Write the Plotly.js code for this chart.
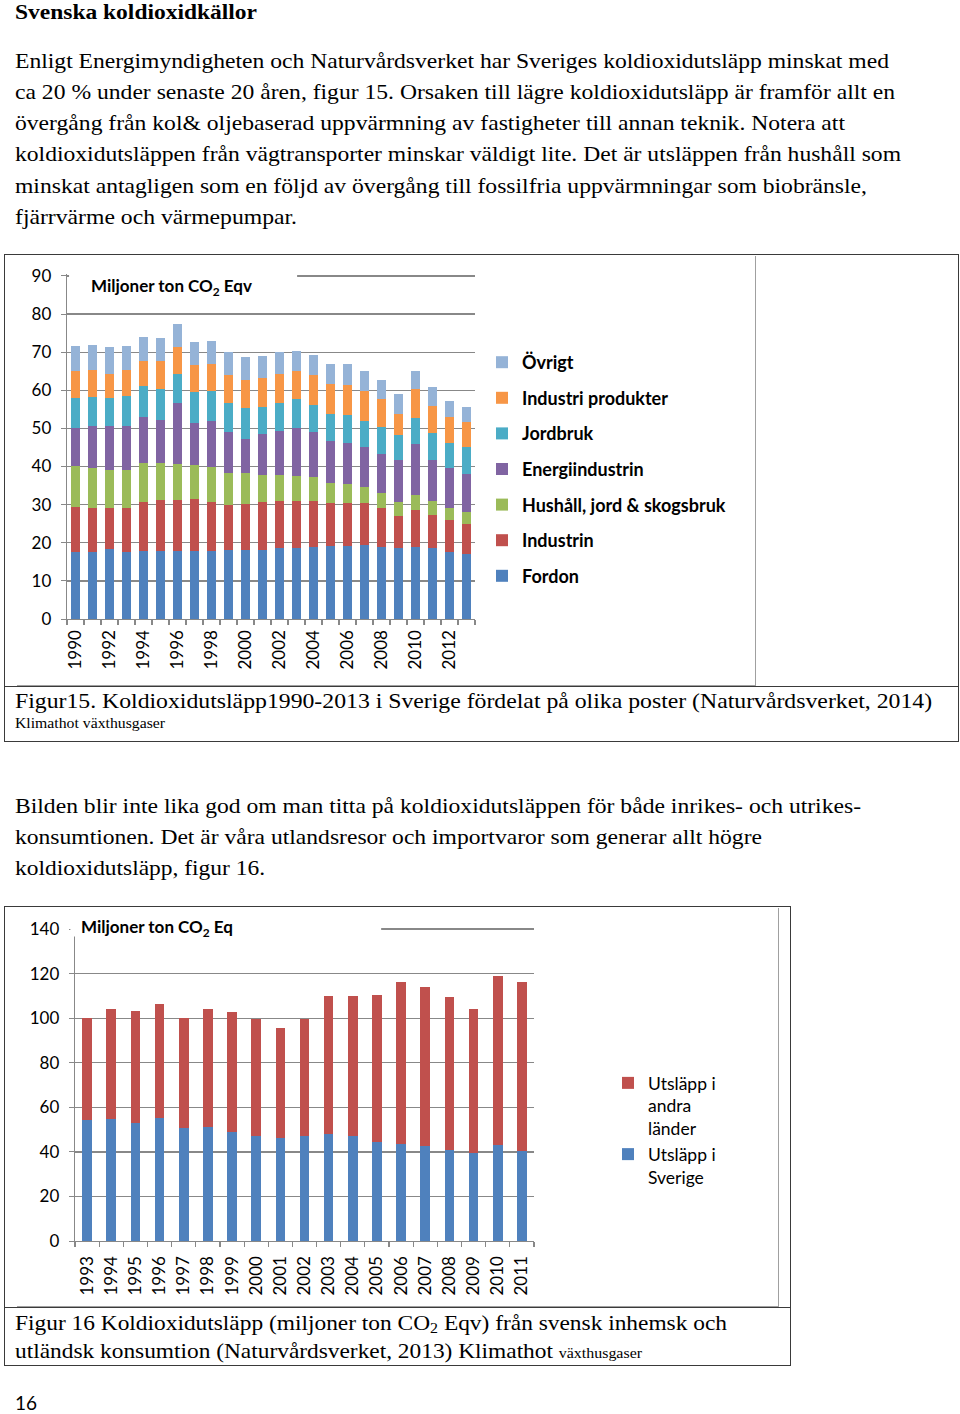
<!DOCTYPE html>
<html><head><meta charset="utf-8">
<script src="https://cdn.plot.ly/plotly-3.0.1.min.js"></script>
<style>
html,body{margin:0;padding:0;background:#fff;}
#page{position:relative;width:960px;height:1414px;overflow:hidden;background:#fff;}
.t{position:absolute;left:15px;white-space:nowrap;font-family:"Liberation Serif","Times New Roman",serif;color:#000;transform-origin:0 50%;}
.box{position:absolute;box-sizing:border-box;}
.plot{position:absolute;}
</style></head><body>
<div id="page">
<div class="t" style="top:1px;font-size:22px;line-height:22px;font-weight:bold" data-w="242">Svenska koldioxidkällor</div>
<div class="t" style="top:48px;font-size:22px;line-height:26px" data-w="874">Enligt Energimyndigheten och Naturvårdsverket har Sveriges koldioxidutsläpp minskat med</div>
<div class="t" style="top:79px;font-size:22px;line-height:26px" data-w="880">ca 20 % under senaste 20 åren, figur 15. Orsaken till lägre koldioxidutsläpp är framför allt en</div>
<div class="t" style="top:110px;font-size:22px;line-height:26px" data-w="830">övergång från kol&amp; oljebaserad uppvärmning av fastigheter till annan teknik. Notera att</div>
<div class="t" style="top:141px;font-size:22px;line-height:26px" data-w="886">koldioxidutsläppen från vägtransporter minskar väldigt lite. Det är utsläppen från hushåll som</div>
<div class="t" style="top:173px;font-size:22px;line-height:26px" data-w="852">minskat antagligen som en följd av övergång till fossilfria uppvärmningar som biobränsle,</div>
<div class="t" style="top:204px;font-size:22px;line-height:26px" data-w="282">fjärrvärme och värmepumpar.</div>

<div class="box" style="left:4px;top:254px;width:955px;height:488px;border:1.5px solid #3a3a3a"></div>
<div class="box" style="left:4px;top:686px;width:955px;height:0;border-top:1.5px solid #3a3a3a"></div>
<div class="box" style="left:17px;top:256px;width:739px;height:430px;border:1.5px solid #a0a0a0"></div>
<div id="c1" class="plot" style="left:17px;top:256px;width:738px;height:429px"></div>
<div class="t" style="top:689px;font-size:21px;line-height:24px" data-w="917">Figur15. Koldioxidutsläpp1990-2013 i Sverige fördelat på olika poster (Naturvårdsverket, 2014)</div>
<div class="t" style="top:714px;font-size:15px;line-height:18px" data-w="150">Klimathot växthusgaser</div>

<div class="t" style="top:793px;font-size:22px;line-height:26px" data-w="846">Bilden blir inte lika god om man titta på koldioxidutsläppen för både inrikes- och utrikes-</div>
<div class="t" style="top:824px;font-size:22px;line-height:26px" data-w="747">konsumtionen. Det är våra utlandsresor och importvaror som generar allt högre</div>
<div class="t" style="top:855px;font-size:22px;line-height:26px" data-w="250">koldioxidutsläpp, figur 16.</div>

<div class="box" style="left:4px;top:906px;width:787px;height:460px;border:1.5px solid #3a3a3a"></div>
<div class="box" style="left:4px;top:1307px;width:787px;height:0;border-top:1.5px solid #3a3a3a"></div>
<div class="box" style="left:17px;top:908px;width:762px;height:399px;border:1.5px solid #a0a0a0"></div>
<div id="c2" class="plot" style="left:17px;top:908px;width:761px;height:398px"></div>
<div class="t" style="top:1310px;font-size:22px;line-height:26px" data-w="712">Figur 16 Koldioxidutsläpp (miljoner ton CO<sub style="font-size:15px;vertical-align:-3px">2</sub> Eqv) från svensk inhemsk och</div>
<div class="t" style="top:1338px;font-size:22px;line-height:26px" data-w="627">utländsk konsumtion (Naturvårdsverket, 2013) Klimathot <span style="font-size:15px">växthusgaser</span></div>

<div style="position:absolute;left:15px;top:1393px;font-family:Lato,'Open Sans',sans-serif;font-size:19px;line-height:19px;color:#000">16</div>
</div>
<script>
// ---- Figur 15 data (miljoner ton CO2 eqv) ----
const years15 = [1990,1991,1992,1993,1994,1995,1996,1997,1998,1999,2000,2001,2002,2003,2004,2005,2006,2007,2008,2009,2010,2011,2012,2013];
const labels15 = ["1990","1992","1994","1996","1998","2000","2002","2004","2006","2008","2010","2012"];
const fordon = [17.6,17.6,18.4,17.6,17.9,17.9,17.8,17.8,17.8,18.2,18.1,18.2,18.6,18.7,19.0,19.2,19.2,19.5,18.9,18.6,18.8,18.5,17.6,17.1];
const industrin = [11.7,11.5,10.6,11.6,12.9,13.3,13.3,13.6,13.0,11.8,12.1,12.4,12.3,12.2,11.9,11.3,11.2,10.8,10.2,8.3,9.7,8.9,8.3,7.9];
const hushall = [10.8,10.5,10.2,10.0,10.0,9.6,9.6,8.9,9.0,8.4,8.2,7.3,7.0,6.6,6.4,5.3,4.9,4.3,4.0,3.8,4.0,3.5,3.1,3.2];
const energi = [9.9,11.0,11.4,11.5,12.3,11.5,15.9,11.1,12.1,10.6,8.9,10.7,11.4,12.6,11.8,10.9,10.9,10.5,10.3,10.9,13.3,10.9,10.5,9.9];
const jordbruk = [7.9,7.6,7.5,7.9,7.9,8.1,7.7,8.1,7.8,7.7,8.1,7.1,7.4,7.5,7.0,7.1,7.2,6.8,6.9,6.6,6.8,7.0,6.8,7.0];
const industriProdukter = [7.1,7.0,6.2,6.6,6.8,7.2,7.0,7.0,7.1,7.2,7.4,7.6,7.6,7.4,7.9,7.9,7.9,7.9,7.4,5.6,7.8,7.2,6.7,6.6];
const ovrigt = [6.7,6.7,7.0,6.4,6.2,6.2,6.0,6.1,6.0,6.1,5.8,5.6,5.7,5.4,5.3,5.1,5.5,5.2,5.1,5.1,4.6,4.8,4.3,3.9];
const series15Names = ["Fordon","Industrin","Hushåll, jord & skogsbruk","Energiindustrin","Jordbruk","Industri produkter","Övrigt"];
const series15Colors = ["#4F81BD","#C0504D","#9BBB59","#8064A2","#4BACC6","#F79646","#95B3D7"];

// ---- Figur 16 data ----
const years16 = [1993,1994,1995,1996,1997,1998,1999,2000,2001,2002,2003,2004,2005,2006,2007,2008,2009,2010,2011];
const utslappSverige = [54.2,54.6,53.0,55.4,50.7,51.3,49.1,47.0,46.3,47.0,48.1,47.0,44.5,43.4,42.7,40.9,39.4,43.0,40.3];
const utslappAndra = [45.8,49.6,50.1,50.9,49.2,52.6,53.6,52.6,49.2,52.6,61.8,62.9,65.9,72.9,71.3,68.7,64.5,76.0,76.1];

const GRID = "#888888";
const TF = "Lato, 'Open Sans', sans-serif";

document.querySelectorAll('.t[data-w]').forEach(el => {
  const w = el.getBoundingClientRect().width;
  const target = +el.dataset.w;
  if (w > 0) el.style.transform = 'scaleX(' + (target / w).toFixed(4) + ')';
});

const data15 = [fordon, industrin, hushall, energi, jordbruk, industriProdukter, ovrigt].map((vals, i) => ({
  type: 'bar', x: years15, y: vals, name: series15Names[i],
  marker: {color: series15Colors[i], line: {width: 0}}, width: 0.56,
  legendgroup: 'g' + i, legendrank: 1000 - i * 10, hoverinfo: 'skip'
}));
const bounds15 = years15.map(y => y - 0.5).concat([years15[years15.length - 1] + 0.5]);

Plotly.newPlot('c1', data15, {
  width: 738, height: 429,
  margin: {l: 50, r: 280, t: 18, b: 66},
  paper_bgcolor: '#fff', plot_bgcolor: '#fff',
  barmode: 'stack', bargap: 0,
  showlegend: true,
  legend: {x: 465/738, xref: 'container', xanchor: 'left', y: 1 - 88/429, yref: 'container', yanchor: 'top',
    traceorder: 'grouped', tracegroupgap: 9.2, maxheight: 420,
    font: {family: TF, size: 18, color: '#000', weight: 'bold'}, bgcolor: 'rgba(0,0,0,0)'},
  xaxis: {range: [1989.5, 2013.5], tickmode: 'array', tickvals: labels15.map(Number), ticktext: labels15, tickangle: -90,
    ticks: '', showgrid: false, zeroline: false, showline: true, linecolor: GRID, linewidth: 1.3,
    tickfont: {family: TF, size: 17, color: '#000'}, ticklabelstandoff: 3,
    minor: {tickmode: 'array', tickvals: bounds15, ticks: 'outside', ticklen: 5, tickcolor: GRID, tickwidth: 1.2, showgrid: false}},
  yaxis: {range: [0, 90.5], tickmode: 'linear', tick0: 0, dtick: 10, showgrid: true, gridcolor: GRID, gridwidth: 1.3,
    zeroline: false, showline: true, linecolor: GRID, linewidth: 1.3, ticks: 'outside', ticklen: 5, tickcolor: GRID,
    tickfont: {family: TF, size: 17, color: '#000'}, ticklabelstandoff: 6},
  shapes: [{type: 'rect', xref: 'paper', yref: 'paper', x0: 0.005, x1: 0.564, y0: 0.93, y1: 1.02, fillcolor: '#fff', line: {width: 0}, layer: 'above'}],
  annotations: [{xref: 'paper', yref: 'paper', x: 0.054, y: 0.962, xanchor: 'left', yanchor: 'middle', showarrow: false,
    text: 'Miljoner ton CO<sub>2</sub> Eqv', font: {family: TF, size: 17, color: '#000', weight: 'bold'}}]
}, {staticPlot: true, displayModeBar: false});

const bounds16 = years16.map(y => y - 0.5).concat([years16[years16.length - 1] + 0.5]);
Plotly.newPlot('c2', [
  {type: 'bar', x: years16, y: utslappSverige, name: 'Utsläpp i<br>Sverige', marker: {color: '#4F81BD'}, width: 0.4, hoverinfo: 'skip'},
  {type: 'bar', x: years16, y: utslappAndra, name: 'Utsläpp i<br>andra<br>länder', marker: {color: '#C0504D'}, width: 0.4, hoverinfo: 'skip'}
], {
  width: 761, height: 398,
  margin: {l: 58, r: 244, t: 19, b: 65},
  paper_bgcolor: '#fff', plot_bgcolor: '#fff',
  barmode: 'stack', bargap: 0,
  showlegend: true,
  legend: {x: 591/761, xref: 'container', xanchor: 'left', y: 1 - 157/398, yref: 'container', yanchor: 'top',
    traceorder: 'reversed', valign: 'top', font: {family: TF, size: 17.5, color: '#000'}, bgcolor: 'rgba(0,0,0,0)'},
  xaxis: {range: [1992.5, 2011.5], tickmode: 'array', tickvals: years16, ticktext: years16.map(String), tickangle: -90,
    ticks: '', showgrid: false, zeroline: false, showline: true, linecolor: GRID, linewidth: 1.3,
    tickfont: {family: TF, size: 17, color: '#000'}, ticklabelstandoff: 7,
    minor: {tickmode: 'array', tickvals: bounds16, ticks: 'outside', ticklen: 5, tickcolor: GRID, tickwidth: 1.2, showgrid: false}},
  yaxis: {range: [0, 140.9], tickmode: 'linear', tick0: 0, dtick: 20, showgrid: true, gridcolor: GRID, gridwidth: 1.3,
    zeroline: false, showline: true, linecolor: GRID, linewidth: 1.3, ticks: 'outside', ticklen: 5, tickcolor: GRID,
    tickfont: {family: TF, size: 17, color: '#000'}, ticklabelstandoff: 6},
  shapes: [{type: 'rect', xref: 'paper', yref: 'paper', x0: -0.01, x1: 0.667, y0: 0.97, y1: 1.03, fillcolor: '#fff', line: {width: 0}, layer: 'above'}],
  annotations: [{xref: 'paper', yref: 'paper', x: 0.0087, y: 0.997, xanchor: 'left', yanchor: 'middle', showarrow: false,
    text: 'Miljoner ton CO<sub>2</sub> Eq', font: {family: TF, size: 17, color: '#000', weight: 'bold'}}]
}, {staticPlot: true, displayModeBar: false});
</script>
</body></html>
